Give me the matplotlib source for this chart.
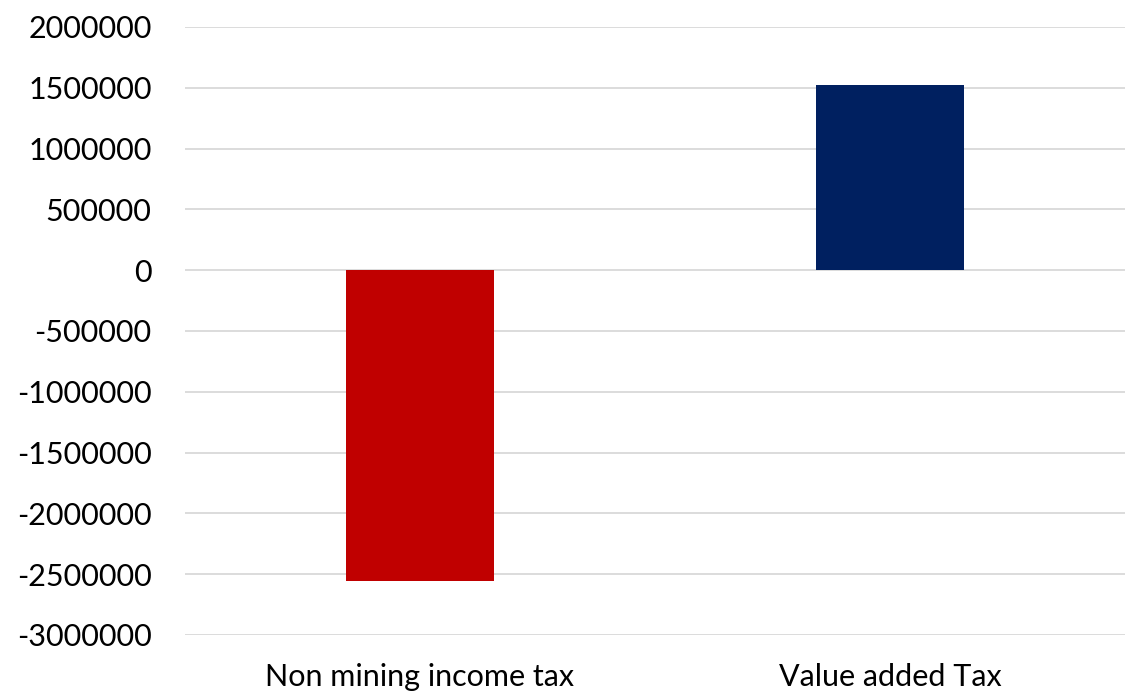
import matplotlib
matplotlib.use("Agg")
import matplotlib.pyplot as plt
from matplotlib.ticker import FuncFormatter

categories = ["Non mining income tax", "Value added Tax"]
values = [-2558000, 1524000]
colors = ["#C00000", "#002060"]
yticks = [2000000, 1500000, 1000000, 500000, 0, -500000, -1000000,
          -1500000, -2000000, -2500000, -3000000]

plt.rcParams['font.family'] = ['Lato', 'DejaVu Sans']

W, H = 1127, 699
fig = plt.figure(figsize=(W / 100, H / 100), dpi=100)
ax = fig.add_axes([185 / W, 64 / H, 940 / W, 608 / H])

x = range(len(categories))
ax.bar(x, values, width=0.315, color=colors, zorder=3)
ax.set_xlim(-0.5, 1.5)
ax.set_ylim(-3000000, 2000000)
ax.set_yticks(yticks)
ax.yaxis.set_major_formatter(FuncFormatter(lambda v, p: f"{int(v)}"))
ax.set_xticks(list(x))
ax.set_xticklabels(categories)
ax.grid(axis='y', color='#D9D9D9', linewidth=1.3, zorder=0)
for s in ax.spines.values():
    s.set_visible(False)
ax.tick_params(axis='both', length=0, labelsize=22, colors='black')
ax.tick_params(axis='y', pad=24)
ax.tick_params(axis='x', pad=20)

fig.savefig("out.png", dpi=100)
